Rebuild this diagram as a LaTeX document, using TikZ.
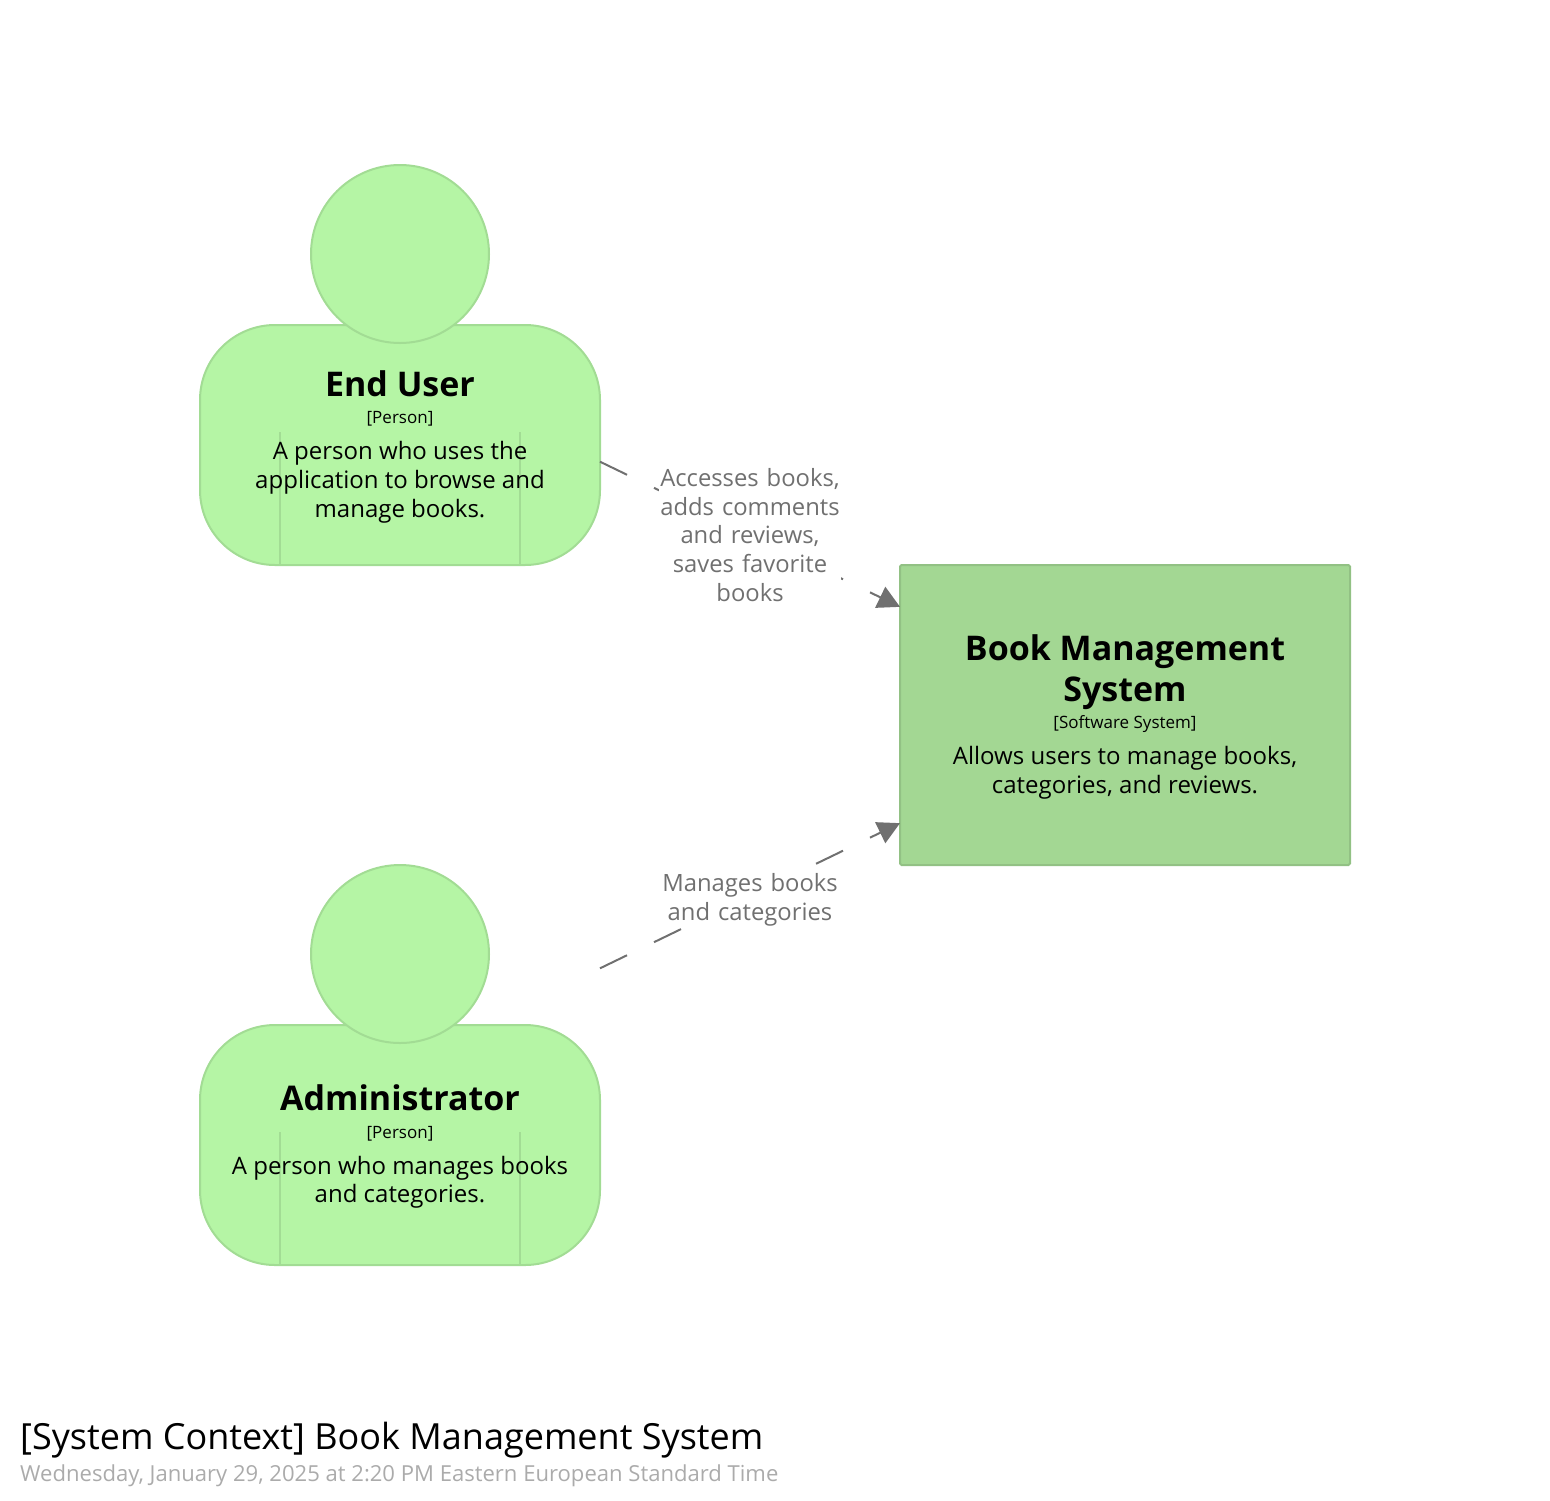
\documentclass[tikz,border=0pt]{standalone}
\usepackage{fontspec}
\setmainfont{Open Sans}
\usetikzlibrary{arrows.meta}
\definecolor{personfill}{HTML}{B5F5A5}
\definecolor{personline}{HTML}{A2DC94}
\definecolor{systemfill}{HTML}{A3D793}
\definecolor{systemline}{HTML}{92C184}
\definecolor{relcolor}{HTML}{707070}
\definecolor{metacolor}{HTML}{ABABAB}
\tikzset{
  x=1pt,y=-1pt,
  personbox/.style={minimum width=400pt,minimum height=400pt,inner sep=0pt,outer sep=0pt},
  systembox/.style={draw=systemline,fill=systemfill,line width=2pt,rounded corners=1.5pt,minimum width=450pt,minimum height=300pt,inner sep=0pt,outer sep=0pt},
  personshape/.style={draw=personline,fill=personfill,line width=2pt},
  namelabel/.style={inner sep=0pt,anchor=base,align=center,font=\fontsize{34}{41}\selectfont\bfseries,text=black},
  taglabel/.style={inner sep=0pt,anchor=base,align=center,font=\fontsize{17}{20}\selectfont,text=black},
  desclabel/.style={inner sep=0pt,anchor=base,align=center,font=\fontsize{24}{28.6}\selectfont,text=black},
  rellabel/.style={fill=white,inner sep=0pt,text width=182pt,align=center,text=relcolor,font=\fontsize{23.8}{28.6}\selectfont,minimum height=142pt},
  relline/.style={draw=relcolor,line width=2pt,dash pattern=on 30pt off 30pt,-{Triangle[length=22pt,width=23pt,fill=relcolor]}},
}
\newcommand{\persondraw}[1]{%
  \filldraw[personshape,rounded corners=75pt] (200,#1+160) rectangle (600,#1+400);
  \draw[personline,line width=2pt] (280,#1+267) -- (280,#1+400);
  \draw[personline,line width=2pt] (520,#1+267) -- (520,#1+400);
  \filldraw[personshape] (400,#1+89) circle[radius=89pt];
}
\begin{document}
\begin{tikzpicture}
\useasboundingbox (0,0) rectangle (1550,1500);
\persondraw{165}
\persondraw{865}
\node[personbox] (user) at (400,365) {};
\node[personbox] (admin) at (400,1065) {};
\node[systembox] (system) at (1125,715) {};

\node[namelabel] (username) at (400,396) {End User};
\node[taglabel] (usertag) at (400,423) {[Person]};
\node[desclabel] (userdesc1) at (400,459) {A person who uses the};
\node[desclabel] (userdesc2) at (400,488) {application to browse and};
\node[desclabel] (userdesc3) at (400,517) {manage books.};

\node[namelabel] (adminname) at (400,1110) {Administrator};
\node[taglabel] (admintag) at (400,1138) {[Person]};
\node[desclabel] (admindesc1) at (400,1174) {A person who manages books};
\node[desclabel] (admindesc2) at (400,1202) {and categories.};

\node[namelabel] (sysname1) at (1125,660) {Book Management};
\node[namelabel] (sysname2) at (1125,701) {System};
\node[taglabel] (systag) at (1125,728) {[Software System]};
\node[desclabel] (sysdesc1) at (1125,764) {Allows users to manage books,};
\node[desclabel] (sysdesc2) at (1125,793) {categories, and reviews.};

\draw[relline] (user) -- (system) node[rellabel,midway,yshift=-0.7pt] (rel1) {Accesses books,\\adds comments\\and reviews,\\saves favorite\\books};
\draw[relline] (admin) -- (system) node[rellabel,midway,minimum height=56pt,yshift=-4pt] (rel2) {Manages books\\and categories};

\node[inner sep=0pt,anchor=base west,font=\fontsize{36}{44}\selectfont,text=black] (title) at (20,1449) {[System Context] Book Management System};
\node[inner sep=0pt,anchor=base west,font=\fontsize{22.06}{28}\selectfont,text=metacolor] (meta) at (20,1481) {Wednesday, January 29, 2025 at 2:20 PM Eastern European Standard Time};
\end{tikzpicture}
\end{document}
